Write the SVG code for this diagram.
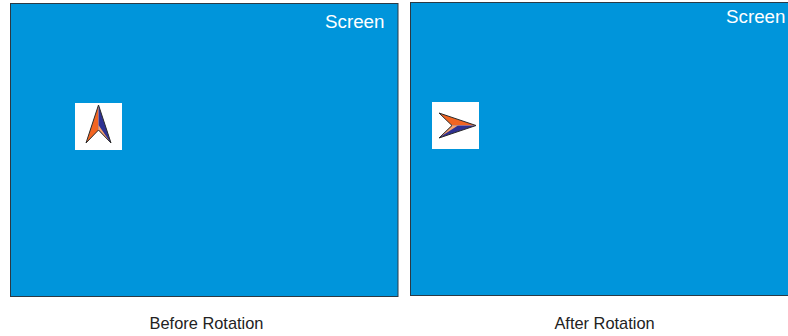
<svg xmlns="http://www.w3.org/2000/svg" width="788" height="336" viewBox="0 0 788 336">
<style>
.screen{fill:#0095db;stroke:#2b3a45;stroke-width:1}
.tag{fill:#fff;font-family:"Liberation Sans",Arial,sans-serif;font-size:18.800px}
.cap{fill:#222;font-family:"Liberation Sans",Arial,sans-serif;font-size:16.400px;text-anchor:middle}
.edge{fill:none;stroke:#2a2a2a;stroke-width:1;stroke-linejoin:miter}
.warm{fill:#f26522}
.cool{fill:#2e3192}
.pale{fill:#f9a56f}
</style>
<rect width="788" height="336" fill="#fff"/>
<g id="before">
<rect class="screen" x="10.500" y="3.500" width="387.500" height="293"/>
<text class="tag" x="325" y="27.500">Screen</text>
<rect x="75" y="103" width="47" height="47" fill="#fff"/>
<polygon class="warm" points="98.500,105 86,143 98.500,130"/>
<polygon class="cool" points="98.500,105 111,143 98.500,130"/>
<polygon class="pale" points="98.500,125 98.500,130 110,142"/>
<polygon class="edge" points="98.500,105 111,143 98.500,130 86,143"/>
<text class="cap" x="206.500" y="329">Before Rotation</text>
</g>
<g id="after">
<rect class="screen" x="410.500" y="2.500" width="387" height="293"/>
<text class="tag" x="726" y="22.500">Screen</text>
<rect x="432" y="102" width="47" height="47" fill="#fff"/>
<polygon class="warm" points="476,125.500 439,113 452,125.500"/>
<polygon class="cool" points="476,125.500 439,138 452,125.500"/>
<polygon class="pale" points="458,125.500 452,125.500 440,137"/>
<polygon class="edge" points="476,125.500 439,113 452,125.500 439,138"/>
<text class="cap" x="604.500" y="329">After Rotation</text>
</g>
</svg>
